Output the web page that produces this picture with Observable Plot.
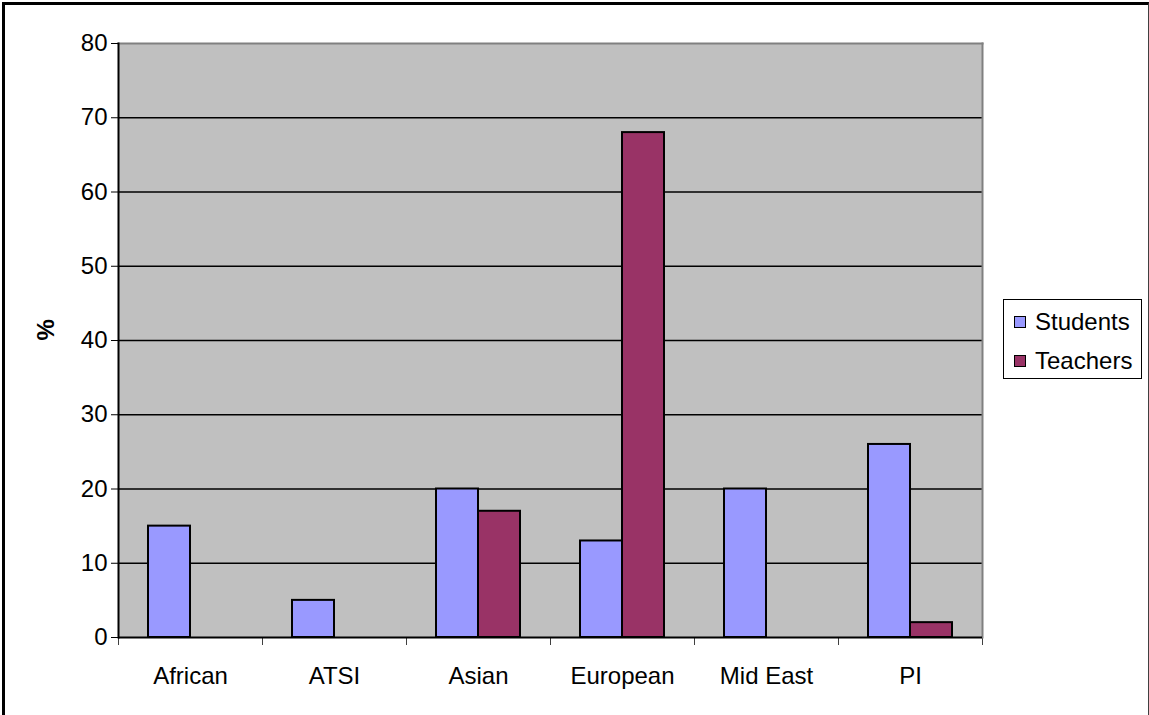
<!DOCTYPE html>
<html>
<head>
<meta charset="utf-8">
<script src="https://cdn.jsdelivr.net/npm/d3@7"></script>
<script src="https://cdn.jsdelivr.net/npm/@observablehq/plot@0.6"></script>
<style>
  html, body { margin: 0; padding: 0; background: white; }
  #wrap { position: relative; width: 1149px; height: 715px; font-family: Arial, "Liberation Sans", sans-serif; }
  #wrap svg { display: block; }
  #border { position: absolute; left: 2px; top: 2px; width: 1143px; height: 710px;
            border-top: 3px solid black; border-left: 3px solid black;
            border-right: 1px solid #404040; border-bottom: 1px solid #c0c0c0; pointer-events: none; box-sizing: content-box; }
  #legend { position: absolute; left: 1003px; top: 299px; width: 137px; height: 78px;
            border: 1px solid black; background: white; font-size: 24px; }
  .item { position: absolute; left: 10px; display: flex; align-items: center; line-height: 1; }
  .sw { width: 10px; height: 10px; border: 1.5px solid black; margin-right: 9px; }
</style>
</head>
<body>
<div id="wrap">
  <div id="chart"></div>
  <div id="border"></div>
  <div id="legend"></div>
</div>
<script>
const categories = ["African", "ATSI", "Asian", "European", "Mid East", "PI"];
const seriesNames = ["Students", "Teachers"];
const students = [15, 5, 20, 13, 20, 26];
const teachers = [0, 0, 17, 68, 0, 2];
const yTicks = [0, 10, 20, 30, 40, 50, 60, 70, 80];
const colors = ["#9999FF", "#993366"];

const data = categories.flatMap((c, i) => [
  {category: c, series: seriesNames[0], value: students[i]},
  {category: c, series: seriesNames[1], value: teachers[i]}
]).filter(d => d.value > 0);

const chart = Plot.plot({
  width: 1149,
  height: 715,
  marginLeft: 117,
  marginRight: 167,
  marginTop: 43,
  marginBottom: 78,
  style: {fontFamily: 'Arial, "Liberation Sans", sans-serif', fontSize: "24px", color: "black", background: "transparent"},
  fx: {domain: categories, paddingInner: 0, paddingOuter: 0, axis: "bottom", tickSize: 0, tickPadding: 29, label: null},
  x: {domain: seriesNames, paddingInner: 0, paddingOuter: 0.714, axis: null},
  y: {domain: [0, 80], axis: null},
  color: {domain: seriesNames, range: colors},
  marks: [
    Plot.frame({fill: "#C0C0C0", stroke: null, facet: "super"}),
    Plot.ruleY(yTicks.slice(1, -1), {stroke: "black", strokeWidth: 1.5}),
    Plot.barY(data, {fx: "category", x: "series", y: "value", fill: "series", stroke: "black", strokeWidth: 2}),
    Plot.frame({anchor: "top", stroke: "#808080", strokeWidth: 2, facet: "super"}),
    Plot.frame({anchor: "left", stroke: "#404040", insetTop: 594, insetBottom: -7}),
    Plot.frame({anchor: "right", stroke: "#404040", insetTop: 594, insetBottom: -7}),
    Plot.frame({anchor: "right", stroke: "#808080", strokeWidth: 2, facet: "super"}),
    Plot.frame({anchor: "left", stroke: "black", strokeWidth: 2, facet: "super"}),
    Plot.ruleY([0], {stroke: "black", strokeWidth: 2}),
    Plot.axisY({ticks: yTicks, tickSize: 7, tickPadding: 4, label: null, stroke: "black"}),
    Plot.text(["%"], {frameAnchor: "left", dx: -72, rotate: -90, fontWeight: "bold", fontSize: 24, facet: "super"})
  ]
});
document.getElementById("chart").appendChild(chart);

const legend = document.getElementById("legend");
seriesNames.forEach((s, i) => {
  const item = document.createElement("div");
  item.className = "item";
  item.style.top = (i === 0 ? 10 : 49) + "px";
  const sw = document.createElement("div");
  sw.className = "sw";
  sw.style.background = colors[i];
  const label = document.createElement("span");
  label.textContent = s;
  item.appendChild(sw);
  item.appendChild(label);
  legend.appendChild(item);
});
</script>
</body>
</html>
